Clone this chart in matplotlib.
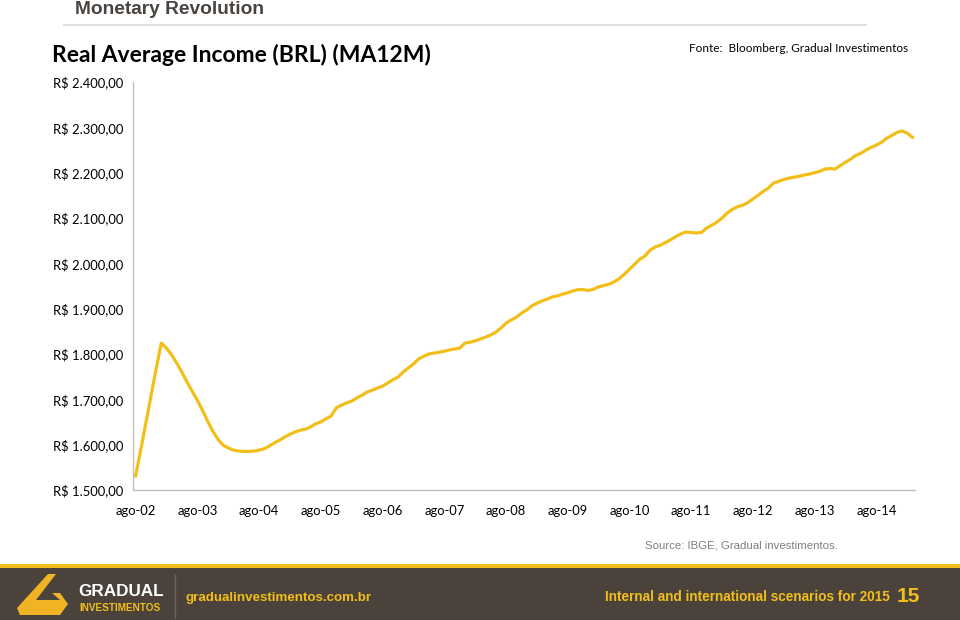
import matplotlib
matplotlib.use("Agg")
import matplotlib.pyplot as plt
from matplotlib.patches import Rectangle, Polygon
from matplotlib.lines import Line2D
from matplotlib.ticker import FuncFormatter

# ---------------- data ----------------
start_year = 2002
start_month = 8  # August 2002, monthly through March 2015
income = [
    1531, 1588, 1648, 1707, 1767, 1824, 1813, 1798, 1780, 1760, 1738, 1718,
    1698, 1676, 1652, 1630, 1612, 1599, 1593, 1588, 1586, 1585, 1585, 1586,
    1588, 1591, 1597, 1604, 1610, 1617, 1623, 1628, 1632, 1634, 1639, 1646,
    1650, 1657, 1663, 1681, 1687, 1692, 1696, 1703, 1709, 1716, 1720, 1725,
    1729, 1736, 1743, 1749, 1760, 1769, 1778, 1789, 1795, 1800, 1802, 1804,
    1806, 1809, 1811, 1813, 1824, 1826, 1829, 1833, 1837, 1842, 1848, 1857,
    1868, 1875, 1881, 1890, 1897, 1906, 1912, 1917, 1921, 1926, 1928, 1932,
    1935, 1939, 1942, 1942, 1940, 1943, 1948, 1951, 1954, 1959, 1966, 1976,
    1987, 1998, 2009, 2016, 2029, 2036, 2040, 2046, 2052, 2059, 2065, 2069,
    2068, 2067, 2068, 2078, 2084, 2091, 2100, 2111, 2119, 2125, 2128, 2134,
    2142, 2150, 2159, 2166, 2177, 2181, 2185, 2188, 2190, 2192, 2195, 2197,
    2200, 2203, 2208, 2209, 2208, 2216, 2223, 2230, 2238, 2243, 2250, 2256,
    2261, 2267, 2276, 2282, 2289, 2292, 2287, 2278,
]
month_abbr = ["jan", "fev", "mar", "abr", "mai", "jun",
              "jul", "ago", "set", "out", "nov", "dez"]
categories = []
for k in range(len(income)):
    m = (start_month - 1 + k) % 12
    y = start_year + (start_month - 1 + k) // 12
    categories.append(f"{month_abbr[m]}-{y % 100:02d}")
tick_labels = [c for c in categories if c.startswith("ago")]
y_ticks = [1500, 1600, 1700, 1800, 1900, 2000, 2100, 2200, 2300, 2400]

# ---------------- figure ----------------
W, H = 960, 620
fig = plt.figure(figsize=(W / 100, H / 100), dpi=100)
fig.patch.set_facecolor("white")

def fx(px):
    return px / W

def fy(py):
    return 1 - py / H

CAL = ["Lato", "DejaVu Sans"]
ARIAL = ["Liberation Sans", "DejaVu Sans"]
YELLOW = "#F2BE1A"
DARK = "#4A423B"

ax = fig.add_axes([fx(133), fy(490), fx(915) - fx(133), fy(82) - fy(490)])
x = list(range(len(income)))
ax.plot(x, income, color=YELLOW, lw=2.3, solid_joinstyle="round")
ax.set_xlim(-0.5, len(income) - 0.5)
ax.set_ylim(1500, 2400)
ax.set_yticks(y_ticks)

def brl(v, pos):
    s = f"{v:,.2f}".replace(",", "X").replace(".", ",").replace("X", ".")
    return f"R$ {s}"

ax.yaxis.set_major_formatter(FuncFormatter(brl))
tick_pos = [i for i, c in enumerate(categories) if c.startswith("ago")]
ax.set_xticks(tick_pos)
ax.set_xticklabels(tick_labels)
for sp in ["top", "right"]:
    ax.spines[sp].set_visible(False)
for sp in ["left", "bottom"]:
    ax.spines[sp].set_color("#BFBFBF")
    ax.spines[sp].set_linewidth(1.0)
ax.tick_params(axis="both", length=0, labelsize=9.4, colors="black")
ax.tick_params(axis="x", pad=10.5)
for lab in ax.get_yticklabels() + ax.get_xticklabels():
    lab.set_fontfamily(CAL)
for lab in ax.get_yticklabels():
    lab.set_horizontalalignment("left")
ax.yaxis.set_tick_params(pad=(133 - 53) * 0.72)

# ---------------- header ----------------
fig.text(fx(75), fy(10), "Monetary Revolution", fontsize=13.8, fontweight="bold",
         color="#4A4440", family=ARIAL, va="center", ha="left")
fig.add_artist(Line2D([fx(64), fx(866)], [fy(25), fy(25)], color="#D9D9D9", lw=1.2,
                      transform=fig.transFigure))
fig.text(fx(52), fy(55), "Real Average Income (BRL) (MA12M)", fontsize=16.5,
         fontweight="bold", color="black", family=CAL, va="center", ha="left")
fig.text(fx(908), fy(49), "Fonte:  Bloomberg, Gradual Investimentos", fontsize=8.5,
         color="black", family=CAL, va="center", ha="right")

fig.text(fx(838), fy(545), "Source: IBGE, Gradual investimentos.", fontsize=8.2,
         color="#7F7F7F", family=ARIAL, va="center", ha="right")

# ---------------- footer ----------------
fig.add_artist(Rectangle((0, 0), 1, fy(567), transform=fig.transFigure,
                         facecolor=DARK, edgecolor="none"))
fig.add_artist(Rectangle((0, fy(568)), 1, fy(564) - fy(568), transform=fig.transFigure,
                         facecolor=YELLOW, edgecolor="none"))
logo = [(48, 574), (56, 574), (36, 600), (60, 600), (52, 593), (60, 593),
        (68, 604), (60, 615), (20, 615), (17, 608)]
fig.add_artist(Polygon([(fx(a), fy(b)) for a, b in logo], closed=True,
                       transform=fig.transFigure, facecolor="#F0B323", edgecolor="none"))
fig.text(fx(78), fy(592), "GRADUAL", fontsize=12.3, fontweight="bold", color="white",
         family=ARIAL, va="center", ha="left")
fig.text(fx(79), fy(608), "INVESTIMENTOS", fontsize=7.2, fontweight="bold",
         color=YELLOW, family=ARIAL, va="center", ha="left")
fig.add_artist(Line2D([fx(175), fx(175)], [fy(575), fy(618)], color="#6E665E", lw=1,
                      transform=fig.transFigure))
fig.text(fx(186), fy(598), "gradualinvestimentos.com.br", fontsize=9.6,
         fontweight="bold", color=YELLOW, family=ARIAL, va="center", ha="left")
fig.text(fx(890), fy(597), "Internal and international scenarios for 2015",
         fontsize=9.8, fontweight="bold", color=YELLOW, family=ARIAL,
         va="center", ha="right")
fig.text(fx(897), fy(597), "15", fontsize=15, fontweight="bold", color=YELLOW,
         family=ARIAL, va="center", ha="left")

fig.savefig("out.png", dpi=100, facecolor="white")
